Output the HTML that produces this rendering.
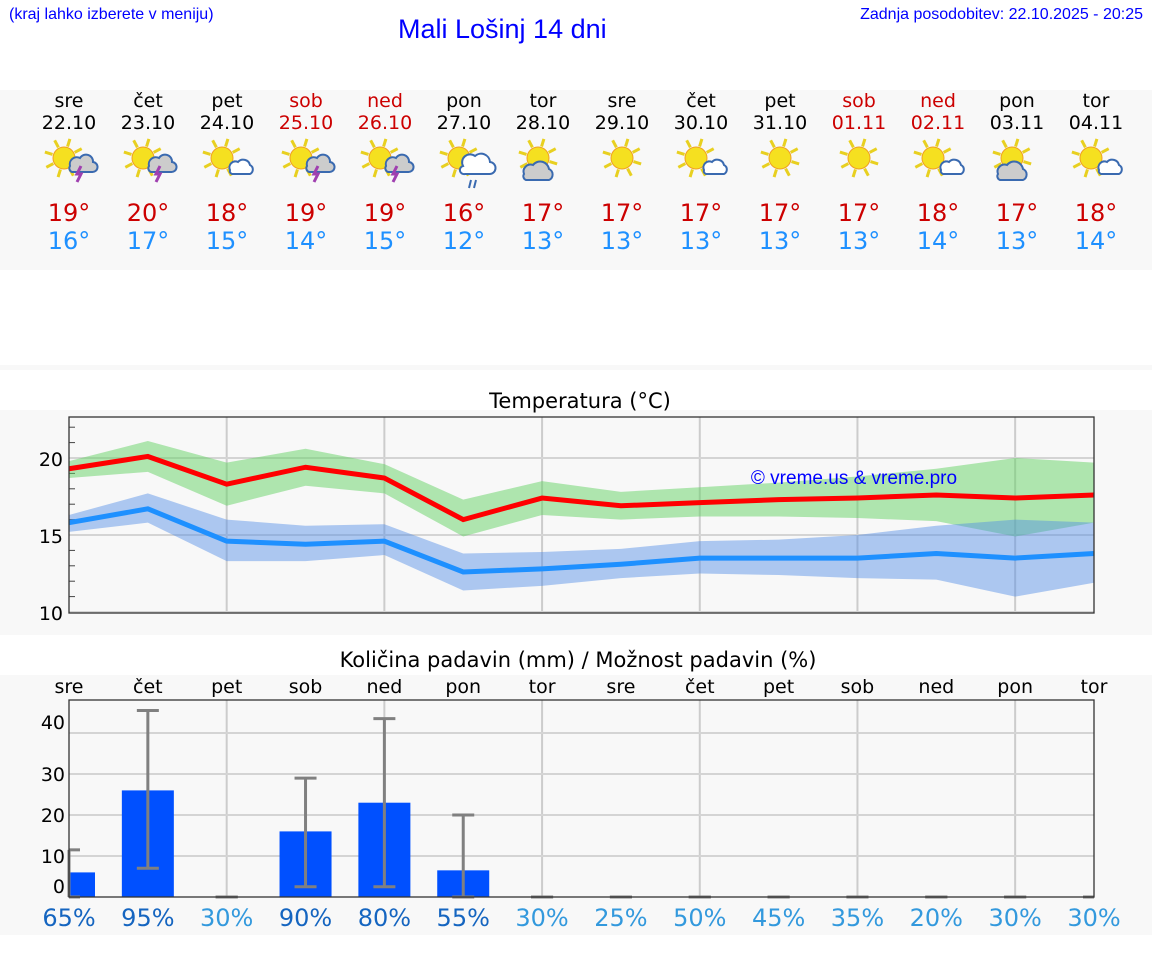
<!DOCTYPE html>
<html><head><meta charset="utf-8">
<style>
body{margin:0;width:1152px;height:975px;background:#fff;font-family:"DejaVu Sans","Liberation Sans",sans-serif;position:relative;overflow:hidden}
.abs{position:absolute}
</style></head><body>
<div class="abs" style="left:9px;top:6px;font:16px 'Liberation Sans',sans-serif;color:#00f">(kraj lahko izberete v meniju)</div>
<div class="abs" style="left:398px;top:14px;font:27px 'Liberation Sans',sans-serif;color:#00f">Mali Lošinj 14 dni</div>
<div class="abs" style="right:9px;top:6px;font:16px 'Liberation Sans',sans-serif;color:#00f">Zadnja posodobitev: 22.10.2025 - 20:25</div>
<div class="abs" style="left:0;top:90px;width:1152px;height:180px;background:#f8f8f8"></div>
<div class="abs" style="left:0;top:365px;width:1152px;height:5px;background:#f8f8f8"></div>
<div class="abs" style="left:0;top:410px;width:1152px;height:225px;background:#f8f8f8"></div>
<div class="abs" style="left:0;top:675px;width:1152px;height:260px;background:#f8f8f8"></div>
<div id="days"></div>
<svg id="chart" class="abs" style="left:0;top:0" width="1152" height="975"></svg>
<script>
const dayNames=["sre","čet","pet","sob","ned","pon","tor","sre","čet","pet","sob","ned","pon","tor"];
const dates=["22.10","23.10","24.10","25.10","26.10","27.10","28.10","29.10","30.10","31.10","01.11","02.11","03.11","04.11"];
const weekend=[0,0,0,1,1,0,0,0,0,0,1,1,0,0];
const icons=["storm","storm","cloud","storm","storm","rain","cloudsun","sun","cloud","sun","sun","cloud","cloudsun","cloud"];
const hiTemps=[19,20,18,19,19,16,17,17,17,17,17,18,17,18];
const loTemps=[16,17,15,14,15,12,13,13,13,13,13,14,13,14];
const maxLine=[19.3,20.1,18.3,19.4,18.7,16.0,17.4,16.9,17.1,17.3,17.4,17.6,17.4,17.6];
const maxUp=[19.8,21.1,19.7,20.6,19.6,17.3,18.5,17.8,18.1,18.4,18.8,19.3,20.0,19.7];
const maxLo=[18.7,19.1,16.9,18.2,17.7,14.9,16.3,16.0,16.2,16.2,16.1,15.9,14.9,15.8];
const minLine=[15.8,16.7,14.6,14.4,14.6,12.6,12.8,13.1,13.5,13.5,13.5,13.8,13.5,13.8];
const minUp=[16.3,17.7,16.0,15.6,15.7,13.8,13.9,14.1,14.6,14.7,15.0,15.6,16.0,15.8];
const minLo=[15.2,15.8,13.3,13.3,13.7,11.4,11.7,12.2,12.5,12.4,12.2,12.1,11.0,11.9];
const precip=[6,26,0,16,23,6.5,0,0,0,0,0,0,0,0];
const errHi=[11.5,45.5,0,29,43.5,20,0,0,0,0,0,0,0,0];
const errLo=[0,7,0,2.5,2.5,0,0,0,0,0,0,0,0,0];
const chance=[65,95,30,90,80,55,30,25,50,45,35,20,30,30];
const tTicks=[10,15,20];
const pTicks=[0,10,20,30,40];
const NS="http://www.w3.org/2000/svg";
const svg=document.getElementById('chart');
function X(i){return 69+i*(1094-69)/13;}
function TY(v){return 612-(v-10)*15.4;}
function PY(v){return 897-v*4.1;}
function mk(tag,attrs,parent){const e=document.createElementNS(NS,tag);for(const k in attrs)e.setAttribute(k,attrs[k]);(parent||svg).appendChild(e);return e;}
function txt(x,y,s,size,fill,anchor){const t=mk('text',{x:x,y:y,'font-size':size,fill:fill,'text-anchor':anchor||'middle','font-family':'DejaVu Sans, Liberation Sans, sans-serif'});t.textContent=s;return t;}
for(let i=0;i<14;i++){
 const cx=69+i*79;
 const col=weekend[i]?'#c00':'#000';
 let t=txt(cx,107,dayNames[i],19,col);
 
 
 t=txt(cx,129,dates[i],19,col);
 
 
 const g=mk('g',{transform:'translate('+(cx-25)+',136)'});
 
 
 const ic=icons[i];
 const sx=ic==='sun'?25:20, sy=22;
 for(let a=0;a<8;a++){const an=a*Math.PI/4+0.3;mk('line',{x1:sx+Math.cos(an)*12,y1:sy+Math.sin(an)*12,x2:sx+Math.cos(an)*20,y2:sy+Math.sin(an)*20,stroke:'#e8d020','stroke-width':3},g);}
 mk('circle',{cx:sx,cy:sy,r:11,fill:'#f5e020',stroke:'#f0a020','stroke-width':1},g);
 if(ic==='storm'){mk('path',{d:'M26 30 a7 7 0 0 1 10 -8 a7 7 0 0 1 13 4 a5 5 0 0 1 -1 10 h-20 a4 4 0 0 1 -2 -6z',fill:'#ccc',stroke:'#3a6ab0','stroke-width':2},g);mk('path',{d:'M37 30 l-4 8 h4 l-4 8',fill:'none',stroke:'#a040b0','stroke-width':3},g);}
 if(ic==='cloud'){mk('path',{d:'M28 34 a6 6 0 0 1 8 -8 a7 7 0 0 1 12 3 a5 5 0 0 1 0 9 h-18 a3 3 0 0 1 -2 -4z',fill:'#fff',stroke:'#3a6ab0','stroke-width':2},g);}
 if(ic==='rain'){mk('path',{d:'M24 30 a8 8 0 0 1 12 -10 a9 9 0 0 1 15 6 a6 6 0 0 1 -1 12 h-24 a4 4 0 0 1 -2 -8z',fill:'#fff',stroke:'#3a6ab0','stroke-width':2},g);mk('path',{d:'M32 44 l-2 8 M37 44 l-2 8',stroke:'#3a6ab0','stroke-width':2},g);}
 if(ic==='cloudsun'){mk('path',{d:'M6 38 a7 7 0 0 1 9 -9 a9 9 0 0 1 16 4 a6 6 0 0 1 0 11 h-23 a4 4 0 0 1 -2 -6z',fill:'#ccc',stroke:'#3a6ab0','stroke-width':2},g);}
 t=txt(cx,221,hiTemps[i]+'°',24,'#c00');
 
 
 t=txt(cx,249,loTemps[i]+'°',24,'#1e90ff');
 
 
}
let t=txt(580,408,'Temperatura (°C)',21,'#000');


for(let i=1;i<13;i+=2){const l=mk('line',{x1:X(i+1),x2:X(i+1),y1:417,y2:613,stroke:'#ccc','stroke-width':2});}
tTicks.forEach(v=>{const l=mk('line',{x1:69,x2:1094,y1:TY(v),y2:TY(v),stroke:'#d4d4d4','stroke-width':2});const tt=txt(63,TY(v)+8,String(v),19,'#000','end');});
for(let v=11;v<23;v++){if(v%5)mk('line',{x1:69,x2:75,y1:TY(v),y2:TY(v),stroke:'#444','stroke-width':1});}
function band(up,lo,fill,name){let d='M';for(let i=0;i<14;i++)d+=X(i)+' '+TY(up[i])+' L';for(let i=13;i>=0;i--)d+=X(i)+' '+TY(lo[i])+(i?' L':'Z');const p=mk('path',{d:d,fill:fill});}
function line(vals,col,name){const p=mk('polyline',{points:vals.map((v,i)=>X(i)+','+TY(v)).join(' '),fill:'none',stroke:col,'stroke-width':5});}
band(maxUp,maxLo,'rgba(100,210,100,0.5)','max-temp-band');
band(minUp,minLo,'rgba(80,140,230,0.45)','min-temp-band');
line(maxLine,'#ff0000','max-temp-line');
line(minLine,'#1e90ff','min-temp-line');
t=txt(854,484,'© vreme.us & vreme.pro',19,'#00f');
t.setAttribute('font-family','Liberation Sans, sans-serif');


mk('rect',{x:69,y:417,width:1025,height:196,fill:'none',stroke:'#333','stroke-width':1.3});
t=txt(578,667,'Količina padavin (mm) / Možnost padavin (%)',21,'#000');


for(let i=0;i<14;i++){const d=txt(X(i),693,dayNames[i],19,'#000');}
for(let i=2;i<14;i+=2){const l=mk('line',{x1:X(i),x2:X(i),y1:700,y2:897,stroke:'#ccc','stroke-width':2});}
const pLabelY=[893,863,822,781,729];
pTicks.forEach((v,k)=>{if(v>0){const l=mk('line',{x1:69,x2:1094,y1:PY(v),y2:PY(v),stroke:'#d4d4d4','stroke-width':2});}const tt=txt(65,pLabelY[k],String(v),19,'#000','end');});
for(let i=0;i<14;i++){
 const x0=Math.max(69,X(i)-26),x1=Math.min(1094,X(i)+26);
 if(precip[i]>0){const r=mk('rect',{x:x0,y:PY(precip[i]),width:x1-x0,height:PY(0)-PY(precip[i]),fill:'#0050ff'});}
 const eg=mk('g',{stroke:'#808080','stroke-width':3});
 
 
 mk('line',{x1:X(i),x2:X(i),y1:PY(errHi[i]),y2:PY(errLo[i])},eg);
 mk('line',{x1:Math.max(69,X(i)-11),x2:Math.min(1094,X(i)+11),y1:PY(errHi[i]),y2:PY(errHi[i])},eg);
 mk('line',{x1:Math.max(69,X(i)-11),x2:Math.min(1094,X(i)+11),y1:PY(errLo[i]),y2:PY(errLo[i])},eg);
 const c=txt(X(i),926,chance[i]+'%',24,chance[i]>=55?'#1565c0':'#3399dd');
 
 
}
mk('rect',{x:69,y:700,width:1025,height:197,fill:'none',stroke:'#333','stroke-width':1.3});
</script>
</body></html>
